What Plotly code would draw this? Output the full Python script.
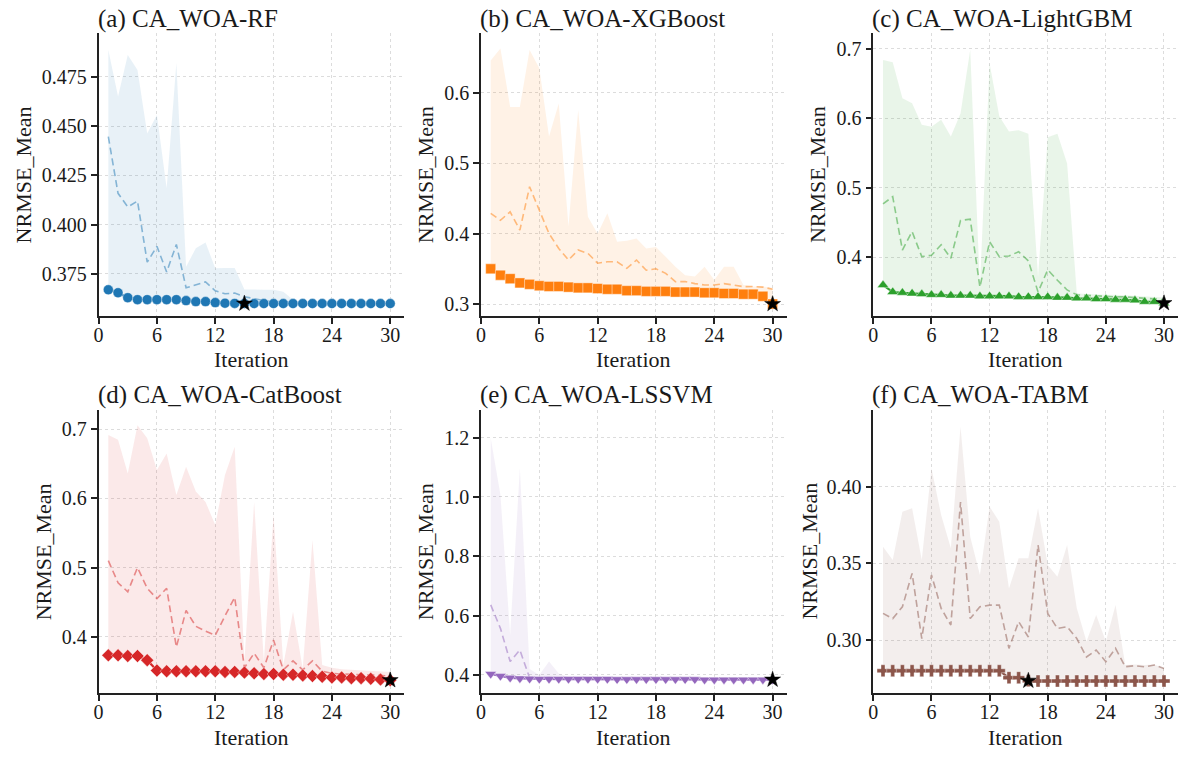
import plotly.graph_objects as go

W, H = 1189, 760
iterations = list(range(1, 31))
x_ticks = [0, 6, 12, 18, 24, 30]

# ---------------- data ----------------
rf_best = [0.367, 0.3655, 0.363, 0.362, 0.362, 0.362, 0.362, 0.362, 0.3615, 0.361,
           0.361, 0.3605, 0.3602, 0.3601, 0.3600, 0.3600, 0.3600, 0.3600, 0.3600, 0.3600,
           0.3600, 0.3600, 0.3600, 0.3600, 0.3600, 0.3600, 0.3600, 0.3600, 0.3600, 0.3600]
rf_mean = [0.4446, 0.4159, 0.409, 0.412, 0.381, 0.389, 0.376, 0.390, 0.368, 0.3694,
           0.371, 0.3665, 0.365, 0.3653, 0.3635, 0.3625, 0.3615, 0.361, 0.361, 0.3605,
           0.3603, 0.3602, 0.3601, 0.3601, 0.3600, 0.3600, 0.3600, 0.3600, 0.3600, 0.3600]
rf_upper = [0.4886, 0.465, 0.486, 0.4785, 0.4463, 0.4556, 0.4185, 0.4818, 0.3787, 0.388,
            0.391, 0.3779, 0.378, 0.378, 0.3672, 0.367, 0.367, 0.367, 0.366, 0.362,
            0.3605, 0.3603, 0.3602, 0.3601, 0.3601, 0.3600, 0.3600, 0.3600, 0.3600, 0.3600]
rf_star_iter = 15

xgb_best = [0.350, 0.341, 0.336, 0.330, 0.328, 0.326, 0.325, 0.325, 0.324, 0.323,
            0.323, 0.322, 0.321, 0.321, 0.319, 0.319, 0.318, 0.318, 0.318, 0.317,
            0.317, 0.317, 0.316, 0.316, 0.315, 0.315, 0.314, 0.314, 0.311, 0.300]
xgb_mean = [0.4288, 0.419, 0.431, 0.405, 0.4666, 0.4335, 0.400, 0.379, 0.3625, 0.3767,
            0.372, 0.358, 0.360, 0.360, 0.3507, 0.3625, 0.348, 0.350, 0.3436, 0.3317,
            0.332, 0.329, 0.327, 0.327, 0.329, 0.327, 0.3246, 0.325, 0.324, 0.321]
xgb_upper = [0.646, 0.663, 0.580, 0.580, 0.661, 0.635, 0.538, 0.585, 0.410, 0.5756,
             0.424, 0.400, 0.429, 0.3885, 0.390, 0.393, 0.379, 0.381, 0.367, 0.353,
             0.341, 0.339, 0.353, 0.334, 0.353, 0.353, 0.327, 0.325, 0.325, 0.323]
xgb_star_iter = 30

lgb_best = [0.360, 0.350, 0.349, 0.348, 0.347, 0.346, 0.346, 0.345, 0.345, 0.345,
            0.344, 0.344, 0.344, 0.344, 0.343, 0.343, 0.343, 0.343, 0.342, 0.342,
            0.341, 0.341, 0.340, 0.340, 0.339, 0.339, 0.338, 0.336, 0.336, 0.334]
lgb_mean = [0.4768, 0.4874, 0.4105, 0.437, 0.401, 0.403, 0.418, 0.3986, 0.453, 0.455,
            0.357, 0.4225, 0.401, 0.402, 0.408, 0.395, 0.350, 0.382, 0.367, 0.353,
            0.346, 0.345, 0.344, 0.344, 0.343, 0.343, 0.342, 0.341, 0.340, 0.339]
lgb_upper = [0.684, 0.681, 0.629, 0.622, 0.591, 0.588, 0.598, 0.574, 0.607, 0.699,
             0.357, 0.679, 0.603, 0.581, 0.583, 0.578, 0.372, 0.573, 0.578, 0.535,
             0.348, 0.347, 0.347, 0.346, 0.346, 0.345, 0.345, 0.344, 0.343, 0.342]
lgb_star_iter = 30

cat_best = [0.373, 0.373, 0.372, 0.372, 0.366, 0.351, 0.350, 0.350, 0.350, 0.350,
            0.350, 0.350, 0.349, 0.349, 0.348, 0.347, 0.346, 0.346, 0.345, 0.345,
            0.344, 0.343, 0.342, 0.341, 0.341, 0.340, 0.340, 0.339, 0.338, 0.337]
cat_mean = [0.510, 0.478, 0.465, 0.500, 0.470, 0.455, 0.470, 0.385, 0.438, 0.415,
            0.408, 0.402, 0.430, 0.457, 0.355, 0.376, 0.355, 0.395, 0.352, 0.365,
            0.352, 0.365, 0.350, 0.347, 0.346, 0.345, 0.345, 0.345, 0.344, 0.343]
cat_upper = [0.692, 0.685, 0.636, 0.706, 0.687, 0.641, 0.665, 0.605, 0.646, 0.610,
             0.595, 0.5616, 0.634, 0.675, 0.364, 0.595, 0.364, 0.576, 0.359, 0.436,
             0.354, 0.540, 0.359, 0.355, 0.353, 0.352, 0.351, 0.350, 0.350, 0.349]
cat_star_iter = 30

svm_best = [0.403, 0.396, 0.390, 0.388, 0.387, 0.386, 0.386, 0.386, 0.386, 0.386,
            0.386, 0.386, 0.386, 0.385, 0.385, 0.385, 0.385, 0.385, 0.385, 0.385,
            0.385, 0.385, 0.384, 0.384, 0.384, 0.384, 0.384, 0.384, 0.384, 0.384]
svm_mean = [0.636, 0.557, 0.445, 0.484, 0.390, 0.388, 0.392, 0.387, 0.387, 0.386,
            0.386, 0.386, 0.386, 0.386, 0.386, 0.386, 0.386, 0.386, 0.386, 0.386,
            0.386, 0.386, 0.385, 0.385, 0.385, 0.385, 0.385, 0.385, 0.385, 0.385]
svm_upper = [1.198, 1.007, 0.535, 1.097, 0.420, 0.400, 0.445, 0.405, 0.392, 0.390,
             0.389, 0.389, 0.389, 0.388, 0.388, 0.388, 0.388, 0.388, 0.388, 0.388,
             0.387, 0.387, 0.387, 0.387, 0.387, 0.387, 0.387, 0.387, 0.387, 0.387]
svm_star_iter = 30

tabm_best = [0.280, 0.280, 0.280, 0.280, 0.280, 0.280, 0.280, 0.280, 0.280, 0.280,
             0.280, 0.280, 0.280, 0.2755, 0.2755, 0.2735, 0.2733, 0.2733, 0.2733, 0.2733,
             0.2733, 0.2733, 0.2733, 0.2733, 0.2733, 0.2733, 0.2733, 0.2733, 0.2733, 0.2733]
tabm_mean = [0.3174, 0.314, 0.3217, 0.3435, 0.301, 0.3424, 0.3207, 0.3098, 0.390, 0.314,
             0.3217, 0.3228, 0.3228, 0.2946, 0.312, 0.302, 0.362, 0.3174, 0.3076, 0.3087,
             0.301, 0.289, 0.2935, 0.2859, 0.2946, 0.2826, 0.2833, 0.2826, 0.2837, 0.2815]
tabm_upper = [0.3609, 0.3522, 0.3837, 0.3859, 0.3522, 0.412, 0.3815, 0.3598, 0.4391, 0.3674,
              0.3424, 0.387, 0.3772, 0.3337, 0.3533, 0.3533, 0.3859, 0.349, 0.3413, 0.362,
              0.3207, 0.299, 0.3163, 0.299, 0.3228, 0.2837, 0.284, 0.2837, 0.284, 0.2815]
tabm_star_iter = 16

titles = ["(a) CA_WOA-RF", "(b) CA_WOA-XGBoost", "(c) CA_WOA-LightGBM",
          "(d) CA_WOA-CatBoost", "(e) CA_WOA-LSSVM", "(f) CA_WOA-TABM"]
y_tickvals = [[0.375, 0.400, 0.425, 0.450, 0.475], [0.3, 0.4, 0.5, 0.6], [0.4, 0.5, 0.6, 0.7],
              [0.4, 0.5, 0.6, 0.7], [0.4, 0.6, 0.8, 1.0, 1.2], [0.30, 0.35, 0.40]]
y_tickfmt = [".3f", ".1f", ".1f", ".1f", ".1f", ".2f"]

# ---------------- styling / layout ----------------
FONT = "Liberation Serif"
colors = [(31, 119, 180), (255, 127, 14), (44, 160, 44), (214, 39, 40), (148, 103, 189), (140, 86, 75)]
symbols = ["circle", "square", "triangle-up", "diamond", "triangle-down", "cross"]
yranges = [[0.3537, 0.4972], [0.283, 0.685], [0.3155, 0.723], [0.3185, 0.728], [0.339, 1.293], [0.2655, 0.45]]
# pixel boxes: (left, right, top, bottom)
col_px = [(94, 401), (478, 785), (872, 1178)]
row_px = [(33, 316), (410, 693)]
ytitle_px = [19, 422.5, 816, 39, 422.5, 807.5]
title_y_px = [19, 395]
xtitle_y_px = [360, 737]

series = [(rf_best, rf_mean, rf_upper, rf_star_iter),
          (xgb_best, xgb_mean, xgb_upper, xgb_star_iter),
          (lgb_best, lgb_mean, lgb_upper, lgb_star_iter),
          (cat_best, cat_mean, cat_upper, cat_star_iter),
          (svm_best, svm_mean, svm_upper, svm_star_iter),
          (tabm_best, tabm_mean, tabm_upper, tabm_star_iter)]

fig = go.Figure()
annotations = []
for i, (best, mean, upper, star_it) in enumerate(series):
    r, c = divmod(i, 3)
    xa = "x" if i == 0 else f"x{i+1}"
    ya = "y" if i == 0 else f"y{i+1}"
    rgb = colors[i]
    col = f"rgb{rgb}"
    fill = f"rgba({rgb[0]},{rgb[1]},{rgb[2]},0.10)"
    dash_col = f"rgba({rgb[0]},{rgb[1]},{rgb[2]},0.5)"
    # band lower (best) and upper
    fig.add_trace(go.Scatter(x=iterations, y=best, mode="lines", line=dict(width=0, color=fill),
                             xaxis=xa, yaxis=ya, showlegend=False, hoverinfo="skip"))
    fig.add_trace(go.Scatter(x=iterations, y=upper, mode="lines", line=dict(width=0, color=fill),
                             fill="tonexty", fillcolor=fill,
                             xaxis=xa, yaxis=ya, showlegend=False, hoverinfo="skip"))
    fig.add_trace(go.Scatter(x=iterations, y=mean, mode="lines",
                             line=dict(color=dash_col, width=1.6, dash="7px,4px"),
                             xaxis=xa, yaxis=ya, showlegend=False))
    fig.add_trace(go.Scatter(x=iterations, y=best, mode="lines+markers",
                             line=dict(color=col, width=2.2),
                             marker=dict(symbol=symbols[i], size=10, color=col,
                                         line=dict(color="white", width=0.4)),
                             xaxis=xa, yaxis=ya, showlegend=False))
    fig.add_trace(go.Scatter(x=[star_it], y=[best[star_it - 1]], mode="markers",
                             marker=dict(symbol="star", size=12, color="black",
                                         line=dict(color="black", width=0.5)),
                             xaxis=xa, yaxis=ya, showlegend=False))

    x0, x1 = col_px[c]
    t0, b0 = row_px[r]
    axcommon = dict(showline=True, linecolor="#222", linewidth=1.6, ticks="outside",
                    ticklen=6, tickwidth=1.6, tickcolor="#222", mirror=False,
                    showgrid=True, gridcolor="#dcdcdc", griddash="dot", gridwidth=1,
                    zeroline=False, tickfont=dict(family=FONT, size=20, color="#1a1a1a"))
    fig.update_layout(**{
        ("xaxis" if i == 0 else f"xaxis{i+1}"): dict(
            domain=[x0 / W, x1 / W], range=[0, 31.45], tickvals=x_ticks,
            anchor=ya, ticklabelstandoff=-6, **axcommon),
        ("yaxis" if i == 0 else f"yaxis{i+1}"): dict(
            domain=[1 - b0 / H, 1 - t0 / H], range=yranges[i], tickvals=y_tickvals[i],
            tickformat=y_tickfmt[i], anchor=xa, **axcommon),
    })
    annotations.append(dict(text=titles[i], x=(x0 - 3) / W, y=1 - title_y_px[r] / H,
                            xref="paper", yref="paper", xanchor="left", yanchor="middle",
                            showarrow=False, font=dict(family=FONT, size=25, color="#1a1a1a")))
    annotations.append(dict(text="Iteration", x=(x0 + x1) / 2 / W, y=1 - xtitle_y_px[r] / H,
                            xref="paper", yref="paper", xanchor="center", yanchor="middle",
                            showarrow=False, font=dict(family=FONT, size=22, color="#1a1a1a")))
    annotations.append(dict(text="NRMSE_Mean", x=ytitle_px[i] / W, y=1 - (t0 + b0) / 2 / H,
                            xref="paper", yref="paper", xanchor="center", yanchor="middle",
                            textangle=-90, showarrow=False,
                            font=dict(family=FONT, size=22, color="#1a1a1a")))

fig.update_layout(width=W, height=H, margin=dict(l=0, r=0, t=0, b=0),
                  paper_bgcolor="white", plot_bgcolor="white",
                  annotations=annotations, showlegend=False)
fig.write_html("out.html")
